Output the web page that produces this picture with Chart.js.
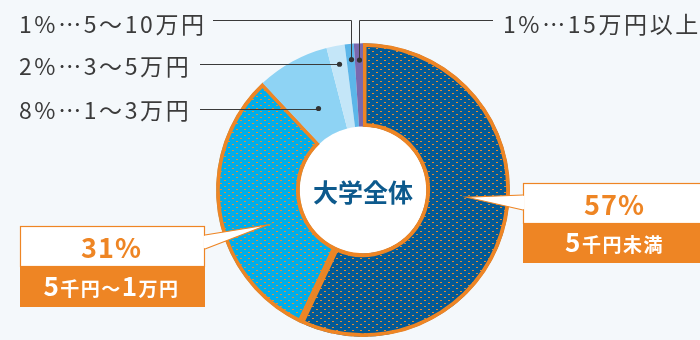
<!DOCTYPE html>
<html lang="ja">
<head>
<meta charset="utf-8">
<script src="https://cdn.jsdelivr.net/npm/chart.js@4"></script>
<style>
  html, body { margin: 0; padding: 0; background: #f4f8fb; }
  #wrap { width: 700px; height: 340px; position: relative; overflow: hidden; }
</style>
</head>
<body>
<div id="wrap"><canvas id="c" width="700" height="340"></canvas></div>
<script>
// 小遣い（月額）の分布：大学全体
const centerTitle = '大学全体';
const categories = ['5千円未満', '5千円〜1万円', '1〜3万円', '3〜5万円', '5〜10万円', '15万円以上'];
const shares = [57, 31, 8, 2, 1, 1];

const ORANGE = '#ee8524';
const TEXT = '#3b3b3b';
const sliceColors = ['#035a96', '#00adea', '#8ed3f4', '#c4e6f8', '#5cb6e9', '#7a69ae'];

// Orange dotted diagonal texture laid over the two largest slices
function dottedPattern(base) {
  const t = document.createElement('canvas');
  t.width = 8; t.height = 6;
  const g = t.getContext('2d');
  g.fillStyle = base;
  g.fillRect(0, 0, 8, 6);
  g.fillStyle = 'rgba(242,140,40,0.95)';
  g.fillRect(0, 0, 2, 1);
  g.fillRect(4, 3, 2, 1);
  return g.createPattern(t, 'repeat');
}

const fills = sliceColors.map((c, i) => i < 2 ? dottedPattern(c) : c);

// Leader-line labels for the small slices
const leaders = [
  { i: 2, r: 93,  textX: 19,  lineX: 200, mode: 'flat' },
  { i: 3, r: 128, textX: 19,  lineX: 200, mode: 'flat' },
  { i: 4, r: 131, textX: 19,  lineX: 213, lineY: 20, mode: 'elbow' },
  { i: 5, r: 130, textX: 503, lineX: 493, lineY: 20, mode: 'elbow' }
];

// Callout boxes for the two large slices
const callouts = [
  { i: 0, frac: 0.458, r: 104, box: { x: 523, y: 183, w: 185, hTop: 40, hBot: 40 }, side: 'left',  base: [195, 210] },
  { i: 1, frac: 0.401, r: 102, box: { x: 20,  y: 226, w: 185, hTop: 40, hBot: 41 }, side: 'right', base: [235, 249] }
];

const FONT = '"Noto Sans CJK JP", "Noto Sans", sans-serif';

function pointOnSlice(arc, frac, r) {
  const a = arc.startAngle + (arc.endAngle - arc.startAngle) * frac;
  return { x: arc.x + r * Math.cos(a), y: arc.y + r * Math.sin(a) };
}

// draw text made of runs: digits larger than kana/kanji
function drawRuns(ctx, str, cx, cy, bigSize, smallSize, color) {
  const runs = [];
  for (const ch of str) {
    const big = /[0-9]/.test(ch);
    const last = runs[runs.length - 1];
    if (last && last.big === big) last.t += ch; else runs.push({ t: ch, big });
  }
  ctx.save();
  ctx.fillStyle = color;
  ctx.textBaseline = 'alphabetic';
  ctx.textAlign = 'left';
  ctx.letterSpacing = '1.5px';
  let total = 0;
  runs.forEach(r => {
    ctx.font = `bold ${r.big ? bigSize : smallSize}px ${FONT}`;
    r.w = ctx.measureText(r.t).width;
    total += r.w;
  });
  let x = cx - total / 2;
  const base = cy + bigSize * 0.36;
  runs.forEach(r => {
    ctx.font = `bold ${r.big ? bigSize : smallSize}px ${FONT}`;
    ctx.fillText(r.t, x, base);
    x += r.w;
  });
  ctx.restore();
}

const decorPlugin = {
  id: 'decor',
  beforeDatasetsDraw(chart) {
    const arc = chart.getDatasetMeta(0).data[0];
    if (!arc) return;
    const ctx = chart.ctx;
    ctx.save();
    ctx.fillStyle = '#ffffff';
    ctx.beginPath();
    ctx.arc(arc.x, arc.y, arc.innerRadius, 0, Math.PI * 2);
    ctx.fill();
    ctx.restore();
  },
  afterDatasetsDraw(chart) {
    const meta = chart.getDatasetMeta(0);
    const ctx = chart.ctx;
    const arc0 = meta.data[0];

    // centre title
    ctx.save();
    ctx.font = `bold 25px ${FONT}`;
    ctx.fillStyle = '#0d5a8d';
    ctx.textAlign = 'center';
    ctx.textBaseline = 'middle';
    ctx.letterSpacing = '0px';
    ctx.fillText(centerTitle, arc0.x, arc0.y + 2);
    ctx.restore();

    // leader lines with dots
    leaders.forEach(L => {
      const arc = meta.data[L.i];
      const p = pointOnSlice(arc, 0.5, L.r);
      ctx.save();
      ctx.strokeStyle = '#3a3a3a';
      ctx.lineWidth = 1;
      ctx.beginPath();
      let ty;
      if (L.mode === 'elbow') {
        ctx.moveTo(L.lineX, L.lineY + 0.5);
        ctx.lineTo(Math.round(p.x) + 0.5, L.lineY + 0.5);
        ctx.lineTo(Math.round(p.x) + 0.5, p.y);
        ty = L.lineY + 4;
      } else {
        ctx.moveTo(L.lineX, Math.round(p.y) + 0.5);
        ctx.lineTo(p.x, Math.round(p.y) + 0.5);
        ty = p.y + 2;
      }
      ctx.stroke();
      ctx.fillStyle = '#333333';
      ctx.beginPath();
      ctx.arc(Math.round(p.x) + 0.5, p.y, 2.6, 0, Math.PI * 2);
      ctx.fill();

      ctx.font = `23px ${FONT}`;
      ctx.letterSpacing = '2.6px';
      ctx.fillStyle = TEXT;
      ctx.textAlign = 'left';
      ctx.textBaseline = 'middle';
      ctx.fillText(`${shares[L.i]}%…${categories[L.i]}`, L.textX, ty);
      ctx.restore();
    });

    // callout boxes
    callouts.forEach(C => {
      const arc = meta.data[C.i];
      const tip = pointOnSlice(arc, C.frac, C.r);
      const b = C.box;
      const edgeX = C.side === 'left' ? b.x : b.x + b.w;
      ctx.save();
      // white upper part with orange outline
      ctx.fillStyle = '#ffffff';
      ctx.fillRect(b.x, b.y, b.w, b.hTop);
      ctx.strokeStyle = ORANGE;
      ctx.lineWidth = 1.2;
      ctx.strokeRect(b.x + 0.5, b.y + 0.5, b.w - 1, b.hTop);
      // orange lower part
      ctx.fillStyle = ORANGE;
      ctx.fillRect(b.x, b.y + b.hTop, b.w, b.hBot);
      // pointer
      ctx.beginPath();
      ctx.moveTo(edgeX, C.base[0]);
      ctx.lineTo(tip.x, tip.y);
      ctx.lineTo(edgeX, C.base[1]);
      ctx.closePath();
      ctx.fillStyle = '#ffffff';
      ctx.fill();
      ctx.beginPath();
      ctx.moveTo(edgeX, C.base[0]);
      ctx.lineTo(tip.x, tip.y);
      ctx.lineTo(edgeX, C.base[1]);
      ctx.stroke();
      ctx.strokeStyle = '#ffffff';
      ctx.lineWidth = 2;
      ctx.beginPath();
      const ex = C.side === 'left' ? edgeX + 0.5 : edgeX - 0.5;
      ctx.moveTo(ex, C.base[0] + 0.8);
      ctx.lineTo(ex, C.base[1] - 0.8);
      ctx.stroke();

      const cx = b.x + b.w / 2 - 1;
      // percentage
      ctx.font = `bold 27px ${FONT}`;
      ctx.fillStyle = ORANGE;
      ctx.textAlign = 'center';
      ctx.textBaseline = 'middle';
      ctx.letterSpacing = '1px';
      ctx.fillText(`${shares[C.i]}%`, cx, b.y + b.hTop / 2 + 2);
      ctx.restore();
      drawRuns(ctx, categories[C.i], cx, b.y + b.hTop + b.hBot / 2, 26, 19, '#ffffff');
    });
  }
};

new Chart(document.getElementById('c'), {
  type: 'doughnut',
  data: {
    labels: categories,
    datasets: [{
      data: shares,
      backgroundColor: fills,
      borderColor: [ORANGE, ORANGE, 'rgba(0,0,0,0)', 'rgba(0,0,0,0)', 'rgba(0,0,0,0)', 'rgba(0,0,0,0)'],
      borderWidth: [3.5, 3.5, 0, 0, 0, 0],
      borderAlign: 'inner',
      hoverOffset: 0,
      offset: 0
    }]
  },
  options: {
    responsive: false,
    animation: false,
    cutout: '43%',
    layout: { padding: { left: 216, right: 190, top: 43, bottom: 3 } },
    plugins: {
      legend: { display: false },
      tooltip: { enabled: false }
    },
    events: []
  },
  plugins: [decorPlugin]
});
</script>
</body>
</html>
